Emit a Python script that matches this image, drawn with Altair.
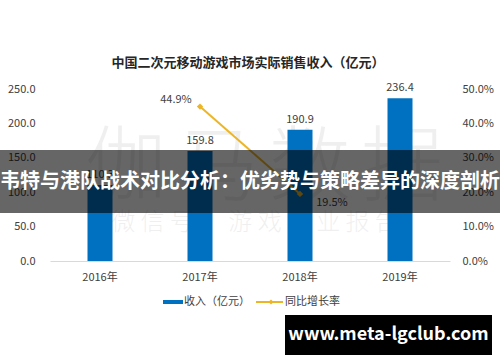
import altair as alt
import pandas as pd

years = ["2016年", "2017年", "2018年", "2019年"]
revenue = [110.3, 159.8, 190.9, 236.4]
growth_years = ["2017年", "2018年"]
growth = [0.449, 0.195]
left_ticks = [0, 50, 100, 150, 200, 250]
right_ticks = [0, 0.1, 0.2, 0.3, 0.4, 0.5]
title_text = "中国二次元移动游戏市场实际销售收入（亿元）"
legend_labels = ["收入（亿元）", "同比增长率"]
banner_text = "韦特与港队战术对比分析：优劣势与策略差异的深度剖析"
site_text = "www.meta-lgclub.com"
watermark_big = ["伽", "马", "数", "据"]
watermark_small = "微 信 号 ： 游 戏 产 业 报 告"

FONT = "Noto Sans CJK SC"
BLUE = "#0070C0"
GOLD = "#EDB526"
TXT = "#404040"

bars_df = pd.DataFrame({"year": years, "rev": revenue})
line_df = pd.DataFrame({"year": growth_years, "g": growth})
one = alt.Data(values=[{"a": 1}])

xscale = alt.Scale(domain=years, paddingInner=0.75, paddingOuter=0.375)
xaxis = alt.Axis(labelAngle=0, ticks=False, domainColor="#d9d9d9", labelPadding=10,
                 labelFontSize=11, labelColor=TXT, labelFont=FONT, title=None, grid=False)
x = alt.X("year:N", scale=xscale, axis=xaxis, sort=years)

left_axis = alt.Axis(values=left_ticks, format=".1f", orient="left", domain=False,
                     ticks=False, grid=False, labelPadding=15, labelFontSize=11,
                     labelColor=TXT, labelFont=FONT, title=None,
                     labelOverlap=False, labelBound=False, labelFlush=False)
right_axis = alt.Axis(values=right_ticks, format=".1%", orient="right", domain=False,
                      ticks=False, grid=False, labelPadding=12, labelFontSize=11,
                      labelColor=TXT, labelFont=FONT, title=None,
                      labelOverlap=False, labelBound=False, labelFlush=False)
ry = alt.Y("rev:Q", scale=alt.Scale(domain=[0, 250]), axis=left_axis)
gy = alt.Y("g:Q", scale=alt.Scale(domain=[0, 0.5]), axis=right_axis)

# watermark
wm_layers = []
for i, ch in enumerate(watermark_big):
    wm_layers.append(alt.Chart(one).mark_text(font=FONT, fontSize=82, color="#000000", opacity=0.06,
                                              fontWeight=300).encode(
        x=alt.value(76 + 92 * i), y=alt.value(80), text=alt.value(ch)))
wm2 = alt.Chart(one).mark_text(font=FONT, fontSize=24, color="#000000", opacity=0.06,
                               fontWeight=300).encode(
    x=alt.value(205), y=alt.value(134), text=alt.value(watermark_small))

bars = alt.Chart(bars_df).mark_bar(color=BLUE).encode(x=x, y=ry)
bar_labels = alt.Chart(bars_df).mark_text(dy=-10, fontSize=11, color=TXT, font=FONT).encode(
    x=x, y=ry, text=alt.Text("rev:Q", format=".1f"))
left = alt.layer(bars, bar_labels)

line = alt.Chart(line_df).mark_line(color=GOLD, strokeWidth=2,
                                    point=alt.OverlayMarkDef(shape="diamond", size=40, color=GOLD,
                                                             filled=True)).encode(x=x, y=gy)
lab1 = alt.Chart(line_df).transform_filter(alt.datum.year == growth_years[0]).mark_text(
    dx=-24, dy=-7, fontSize=11, color=TXT, font=FONT).encode(
    x=x, y=gy, text=alt.Text("g:Q", format=".1%"))
lab2 = alt.Chart(line_df).transform_filter(alt.datum.year == growth_years[1]).mark_text(
    dx=32, dy=9, fontSize=11, color=TXT, font=FONT).encode(
    x=x, y=gy, text=alt.Text("g:Q", format=".1%"))
right = alt.layer(line, lab1, lab2)

main = alt.layer(left, right).resolve_scale(y="independent")

title = alt.Chart(one).mark_text(font=FONT, fontSize=13, fontWeight="bold", color="#262626").encode(
    x=alt.value(198), y=alt.value(-26), text=alt.value(title_text))

# legend
leg_rect = alt.Chart(one).mark_rect(color=BLUE).encode(
    x=alt.value(113), x2=alt.value(133), y=alt.value(211), y2=alt.value(215))
leg_t1 = alt.Chart(one).mark_text(align="left", font=FONT, fontSize=11, color=TXT).encode(
    x=alt.value(134), y=alt.value(213), text=alt.value(legend_labels[0]))
leg_line = alt.Chart(one).mark_rule(color=GOLD, strokeWidth=2).encode(
    x=alt.value(206), x2=alt.value(233), y=alt.value(213))
leg_pt = alt.Chart(one).mark_point(shape="diamond", size=25, color=GOLD, filled=True, opacity=1).encode(
    x=alt.value(221), y=alt.value(213))
leg_t2 = alt.Chart(one).mark_text(align="left", font=FONT, fontSize=11, color=TXT).encode(
    x=alt.value(235), y=alt.value(213), text=alt.value(legend_labels[1]))

# banner overlay
banner = alt.Chart(one).mark_rect(color="#000000", opacity=0.6).encode(
    x=alt.value(-50), x2=alt.value(450), y=alt.value(61), y2=alt.value(124))
banner_t = alt.Chart(one).mark_text(font=FONT, fontSize=20, fontWeight="bold", color="white").encode(
    x=alt.value(200), y=alt.value(93), text=alt.value(banner_text))

site_box = alt.Chart(one).mark_rect(color="#000000").encode(
    x=alt.value(235), x2=alt.value(442), y=alt.value(226), y2=alt.value(266))
site_t = alt.Chart(one).mark_text(font=FONT, fontSize=18, fontWeight="bold", color="white").encode(
    x=alt.value(338.5), y=alt.value(246), text=alt.value(site_text))

chart = alt.layer(
    *wm_layers, wm2, main, title, leg_rect, leg_t1, leg_line, leg_pt, leg_t2,
    banner, banner_t, site_box, site_t
).properties(
    width=400, height=172,
    autosize=alt.AutoSizeParams(type="none"),
    padding={"left": 50, "top": 89, "right": 50, "bottom": 101},
    background="white",
).configure_view(stroke=None)

chart.save("out.html", embed_options={"renderer": "svg", "actions": False})
